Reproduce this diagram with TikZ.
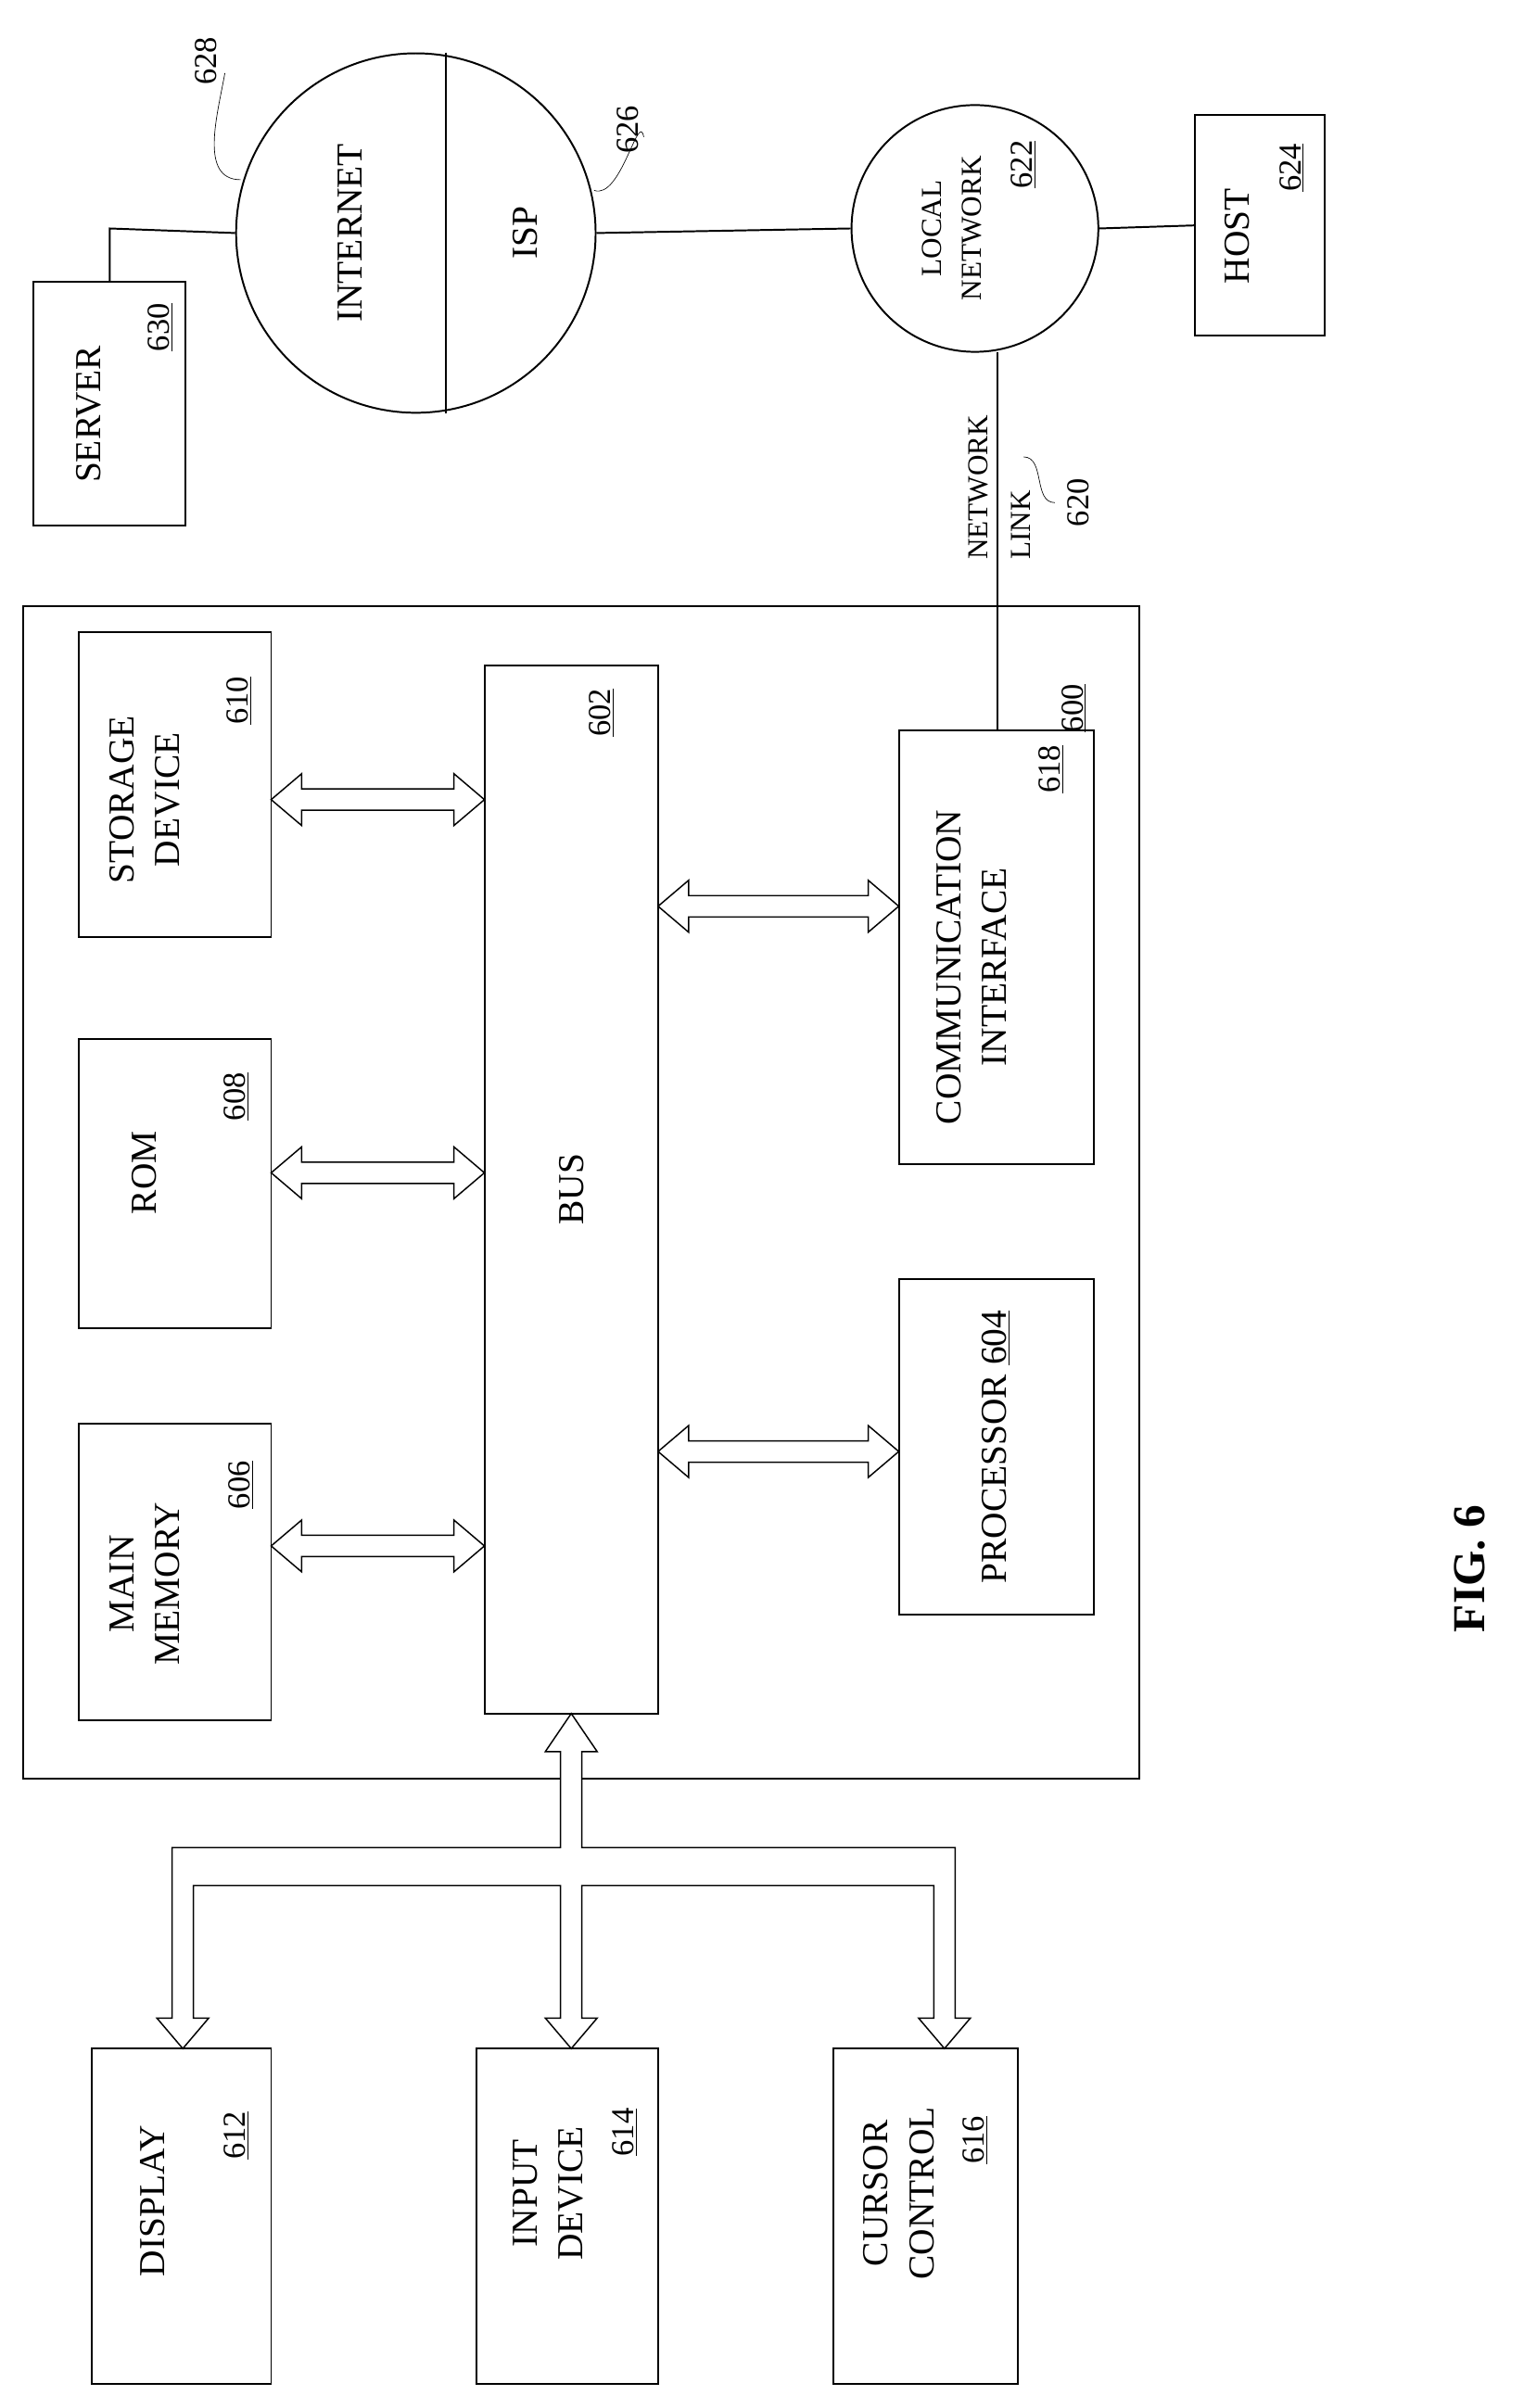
\documentclass[tikz,border=0pt]{standalone}
\usepackage{fontspec}
\setmainfont{Liberation Serif}
\usetikzlibrary{calc,positioning}

\tikzset{
    box/.style={draw, line width=1.2pt},
    lbl/.style={rotate=90, font=\fontsize{24}{30}\selectfont, align=center},
    num/.style={rotate=90, font=\fontsize{21}{24}\selectfont},
    hollow/.style={draw, line width=0.9pt, fill=white}
}
\newcommand{\harrow}[3]{%
  \draw[hollow] (#1,#3) -- ++(20,-17) -- ++(0,10) -- (#2-20,#3-7) -- ++(0,-10)
    -- (#2,#3) -- (#2-20,#3+17) -- ++(0,-10) -- (#1+20,#3+7) -- ++(0,10) -- cycle;}

\begin{document}
\begin{tikzpicture}[x=1pt, y=-1pt]
    \useasboundingbox (0,0) rectangle (1000,1581);

    % computer system
    \node[box, minimum width=733pt, minimum height=770pt] (sys) at (381.5,783) {};
    \node[num] (n600) at (705,465) {\underline{600}};

    \node[box, minimum width=126pt, minimum height=195pt] (mm) at (115,1032) {};
    \node[lbl] at (95,1040) {MAIN\\MEMORY};
    \node[num] at (158,975) {\underline{606}};
    \node[box, minimum width=126pt, minimum height=190pt] (rom) at (115,777) {};
    \node[lbl] at (95,770) {ROM};
    \node[num] at (155,720) {\underline{608}};
    \node[box, minimum width=126pt, minimum height=200pt] (sd) at (115,515) {};
    \node[lbl] at (95,525) {STORAGE\\DEVICE};
    \node[num] at (157,460) {\underline{610}};

    \node[box, minimum width=114pt, minimum height=688pt] (bus) at (375,781) {};
    \node[lbl] at (bus) {BUS};
    \node[num] at (395,468) {\underline{602}};

    \node[box, minimum width=128pt, minimum height=220pt] (proc) at (654,950) {};
    \node[lbl] at (proc) {PROCESSOR \underline{604}};
    \node[box, minimum width=128pt, minimum height=285pt] (comm) at (654,622) {};
    \node[lbl] at (638,635) {COMMUNICATION\\INTERFACE};
    \node[num] at (690,505) {\underline{618}};

    \harrow{178}{318}{1015}
    \harrow{178}{318}{770}
    \harrow{178}{318}{525}
    \harrow{432}{590}{953}
    \harrow{432}{590}{595}

    % peripherals
    \node[box, minimum width=118pt, minimum height=220pt] (disp) at (119,1455) {};
    \node[lbl] at (100,1445) {DISPLAY};
    \node[num] at (155,1402) {\underline{612}};
    \node[box, minimum width=119pt, minimum height=220pt] (inp) at (372.5,1455) {};
    \node[lbl] at (360,1440) {INPUT\\DEVICE};
    \node[num] at (410,1400) {\underline{614}};
    \node[box, minimum width=121pt, minimum height=220pt] (cur) at (607.5,1455) {};
    \node[lbl] at (590,1440) {CURSOR\\CONTROL};
    \node[num] at (640,1405) {\underline{616}};

    \draw[hollow] (375,1125) -- (392,1150) -- (382,1150) -- (382,1213) -- (627,1213)
        -- (627,1325) -- (637,1325) -- (620,1345) -- (603,1325) -- (613,1325)
        -- (613,1238) -- (382,1238) -- (382,1325) -- (392,1325) -- (375,1345)
        -- (358,1325) -- (368,1325) -- (368,1238) -- (127,1238) -- (127,1325)
        -- (137,1325) -- (120,1345) -- (103,1325) -- (113,1325) -- (113,1213)
        -- (368,1213) -- (368,1150) -- (358,1150) -- cycle;

    % network
    \node[box, minimum width=100pt, minimum height=160pt] (srv) at (72,265) {};
    \node[lbl] at (58,272) {SERVER};
    \node[num] at (105,215) {\underline{630}};
    \node[box, circle, minimum size=236pt] (inet) at (273,153) {};
    \draw[line width=1.2pt] (inet.north) ++(20,0) coordinate (c1) -- (c1 |- inet.south);
    \node[lbl] at (230,153) {INTERNET};
    \node[lbl] at (345,153) {ISP};
    \node[box, circle, minimum size=162pt] (lan) at (640,150) {};
    \node[lbl, font=\fontsize{19}{26}\selectfont] at (625,150) {LOCAL\\NETWORK};
    \node[num] at (672,108) {\underline{622}};
    \node[box, minimum width=85pt, minimum height=145pt] (host) at (827,148) {};
    \node[lbl] at (812,155) {HOST};
    \node[num] at (848,110) {\underline{624}};

    \coordinate (sc) at (72,150);
    \draw[line width=1.2pt] (srv.north) -- (sc) -- (inet.west);
    \draw[line width=1.2pt] (inet.east) -- (lan.west);
    \draw[line width=1.2pt] (lan.east) -- (host.west);
    \coordinate (lk) at (655,231);
    \draw[line width=1.2pt] (lk) -- (lk |- comm.north);
    \node[lbl, font=\fontsize{19}{28}\selectfont, align=left] at (656,320) {NETWORK\\LINK};
    \node[num] (n620) at (708,330) {620};
    \draw (n620.north) ++(-5,0) to[out=180,in=0] (672,300);
    \node[num] (n628) at (135,40) {628};
    \draw (n628.south) ++(2,8) to[out=-100,in=180] (158,118);
    \node[num] (n626) at (412,85) {626};
    \draw (n626.south) ++(0,5) to[out=100,in=-20] (390,125);

    \node[rotate=90, font=\bfseries\fontsize{30}{34}\selectfont] (fig) at (965,1030) {FIG. 6};
\end{tikzpicture}
\end{document}
